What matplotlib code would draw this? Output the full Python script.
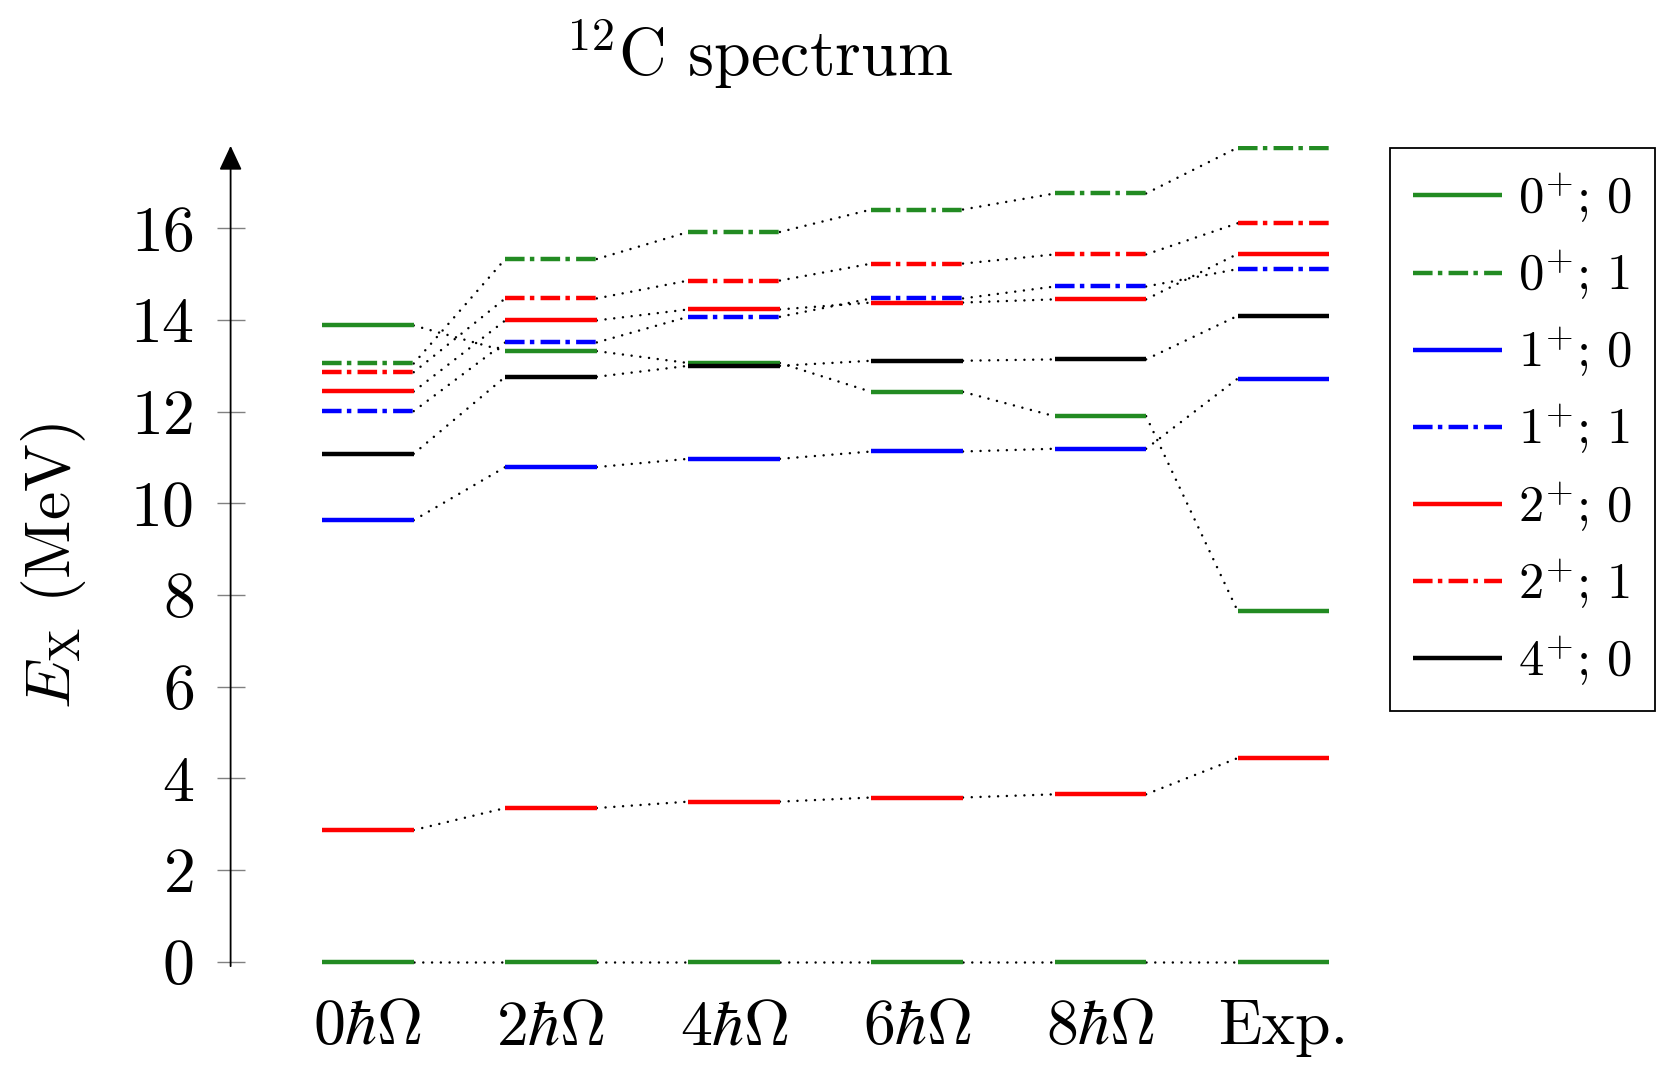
import numpy as np
import matplotlib
matplotlib.use('Agg')
from matplotlib import pyplot as plt
from matplotlib.lines import Line2D

plt.rcParams['font.family'] = 'serif'
plt.rcParams['font.serif'] = ['cmr10']
plt.rcParams['mathtext.fontset'] = 'cm'
plt.rcParams['axes.formatter.use_mathtext'] = True

# model spaces (columns) and tick labels
columns = [0, 1, 2, 3, 4, 5]
column_labels = [r'$0\hbar\Omega$', r'$2\hbar\Omega$', r'$4\hbar\Omega$',
                 r'$6\hbar\Omega$', r'$8\hbar\Omega$', 'Exp.']

# excitation energies (MeV) per state, one value per column
e_0p0_gs = [0.0, 0.0, 0.0, 0.0, 0.0, 0.0]
e_0p0_2 = [13.88, 13.32, 13.06, 12.43, 11.90, 7.65]
e_0p1 = [13.05, 15.33, 15.92, 16.41, 16.76, 17.76]
e_1p0 = [9.63, 10.79, 10.97, 11.13, 11.19, 12.72]
e_1p1 = [12.01, 13.51, 14.07, 14.47, 14.73, 15.11]
e_2p0_1 = [2.87, 3.35, 3.49, 3.58, 3.65, 4.44]
e_2p0_2 = [12.44, 13.99, 14.23, 14.38, 14.45, 15.44]
e_2p1 = [12.86, 14.47, 14.86, 15.23, 15.43, 16.11]
e_4p0 = [11.08, 12.76, 13.00, 13.11, 13.14, 14.09]

state_labels = [r'$0^{+};\,0\,$', r'$0^{+};\,1\,$', r'$1^{+};\,0\,$', r'$1^{+};\,1\,$',
                r'$2^{+};\,0\,$', r'$2^{+};\,1\,$', r'$4^{+};\,0\,$']
state_levels = [[e_0p0_gs, e_0p0_2], [e_0p1], [e_1p0], [e_1p1],
                [e_2p0_1, e_2p0_2], [e_2p1], [e_4p0]]

GREEN = '#228b22'
solid = '-'
dashdot = (0, (4.4, 1.2, 1.0, 1.4))
state_colors = [GREEN, GREEN, 'blue', 'blue', 'red', 'red', 'black']
state_styles = [solid, dashdot, solid, dashdot, solid, dashdot, solid]

half = 0.25
lw = 3.2

fig = plt.figure(figsize=(16.59, 10.8), dpi=100)
ax = fig.add_axes([0.139, 0.1054, 0.6622, 0.7596])

# dotted connectors behind the levels
for levels in state_levels:
    for e in levels:
        for i in range(len(columns) - 1):
            ax.plot([columns[i] + half, columns[i + 1] - half], [e[i], e[i + 1]],
                    color='black', lw=1.8, linestyle=(0, (0.01, 3.5)),
                    dash_capstyle='round', zorder=1)

# energy levels
for levels, c, ls in zip(state_levels, state_colors, state_styles):
    for e in levels:
        for x, y in zip(columns, e):
            ax.plot([x - half, x + half], [y, y], color=c, lw=lw,
                    linestyle=ls, dash_capstyle='butt', solid_capstyle='butt',
                    zorder=2)

ax.set_xlim(-0.75, 5.25)
ax.set_ylim(-0.1, 17.8)
for s in ax.spines.values():
    s.set_visible(False)

ax.annotate('', xy=(0, 1), xytext=(0, 0), xycoords='axes fraction',
            textcoords='axes fraction', annotation_clip=False,
            arrowprops=dict(arrowstyle='-|>,head_length=0.75,head_width=0.35',
                            lw=1.3, color='black', shrinkA=0, shrinkB=0,
                            mutation_scale=20))

ax.set_yticks(np.arange(0, 17, 2))
ax.tick_params(axis='y', direction='inout', length=20, width=1.0,
               color='gray', labelcolor='black', pad=16.6, labelsize=46)
ax.set_xticks(columns)
ax.set_xticklabels(column_labels)
ax.tick_params(axis='x', length=0, pad=24, labelsize=46)

fig.text(54 / 1659, 1 - 566 / 1080, r'$E_{\mathrm{X}}$ (MeV)', rotation=90,
         ha='center', va='center', fontsize=46)
fig.text(758.6 / 1659, 1 - 76 / 1080, r'${}^{12}$C spectrum', ha='center',
         va='baseline', fontsize=47.5)

handles = [Line2D([0], [0], color=c, lw=lw, linestyle=ls, dash_capstyle='butt',
                  solid_capstyle='butt')
           for c, ls in zip(state_colors, state_styles)]
leg = fig.legend(handles, state_labels, loc='upper left',
                 bbox_to_anchor=(1390 / 1659, 1 - 148 / 1080),
                 borderaxespad=0, frameon=True, fancybox=False,
                 edgecolor='black', framealpha=1, fontsize=36.5,
                 handlelength=1.75, handletextpad=0.32, borderpad=0.45,
                 labelspacing=0.45)
leg.get_frame().set_linewidth(1.3)

fig.savefig('out.png', dpi=100)
